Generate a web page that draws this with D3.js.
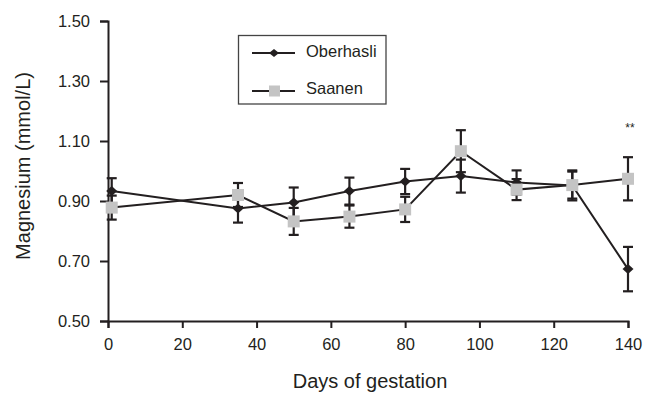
<!DOCTYPE html>
<html><head><meta charset="utf-8">
<script src="https://cdn.jsdelivr.net/npm/d3@7"></script>
<style>body{margin:0;background:#fff}svg{display:block}text{font-family:"Liberation Sans",Arial,sans-serif;fill:#231f20}</style>
</head><body><svg id="c" width="646" height="393"></svg>
<script>
const days = [1, 35, 50, 65, 80, 95, 110, 125, 140];
const oberhasli = [0.933, 0.875, 0.895, 0.933, 0.965, 0.983, 0.962, 0.952, 0.673];
const oberhasliErr = [0.043, 0.047, 0.05, 0.045, 0.042, 0.055, 0.04, 0.05, 0.074];
const saanen = [0.878, 0.92, 0.832, 0.848, 0.872, 1.066, 0.938, 0.953, 0.974];
const saanenErr = [0.04, 0.04, 0.045, 0.037, 0.042, 0.07, 0.035, 0.045, 0.072];
const xTicks = [0, 20, 40, 60, 80, 100, 120, 140];
const yTicks = [0.5, 0.7, 0.9, 1.1, 1.3, 1.5];
const seriesNames = ["Oberhasli", "Saanen"];

const svg = d3.select("#c");
const x = d3.scaleLinear().domain([0, 140]).range([108, 628]);
const y = d3.scaleLinear().domain([0.5, 1.5]).range([321, 21]);
const ink = "#231f20";

const xa = svg.append("g").attr("transform", "translate(0,321)")
  .call(d3.axisBottom(x).tickValues(xTicks).tickSize(7).tickPadding(10).tickFormat(d3.format("d")));
const ya = svg.append("g").attr("transform", "translate(108,0)")
  .call(d3.axisLeft(y).tickValues(yTicks).tickSize(8).tickPadding(10).tickFormat(d3.format(".2f")));
[xa, ya].forEach(a => {
  a.selectAll("path").attr("stroke", ink).attr("stroke-width", 2);
  a.selectAll("line").attr("stroke", ink).attr("stroke-width", 2);
  a.selectAll("text").style("font-size", "16.5px").attr("fill", ink);
});

svg.append("text").attr("x", 370).attr("y", 388).attr("text-anchor", "middle")
  .style("font-size", "20px").text("Days of gestation");
svg.append("text").attr("transform", "translate(30,166) rotate(-90)").attr("text-anchor", "middle")
  .style("font-size", "20px").text("Magnesium (mmol/L)");

const line = d3.line().x(d => x(d[0])).y(d => y(d[1]));
const ob = days.map((d, i) => [d, oberhasli[i], oberhasliErr[i]]);
const sa = days.map((d, i) => [d, saanen[i], saanenErr[i]]);

[ob, sa].forEach(s => {
  svg.append("path").datum(s).attr("d", line).attr("fill", "none").attr("stroke", ink).attr("stroke-width", 2);
});
[ob, sa].forEach(s => {
  const g = svg.append("g").attr("stroke", ink).attr("stroke-width", 2.2);
  s.forEach(p => {
    const cx = x(p[0]), t = y(p[1] + p[2]), b = y(p[1] - p[2]);
    g.append("line").attr("x1", cx).attr("x2", cx).attr("y1", t).attr("y2", b);
    g.append("line").attr("x1", cx - 5).attr("x2", cx + 5).attr("y1", t).attr("y2", t);
    g.append("line").attr("x1", cx - 5).attr("x2", cx + 5).attr("y1", b).attr("y2", b);
  });
});
const diamond = "M0,-5L5.5,0L0,5L-5.5,0Z";
svg.append("g").selectAll("path").data(ob).join("path")
  .attr("transform", d => `translate(${x(d[0])},${y(d[1])})`).attr("d", diamond).attr("fill", ink);
svg.append("g").selectAll("rect").data(sa).join("rect")
  .attr("x", d => x(d[0]) - 6).attr("y", d => y(d[1]) - 6).attr("width", 12).attr("height", 12)
  .attr("fill", "#c4c4c4");

svg.append("text").attr("x", 630).attr("y", 132).attr("text-anchor", "middle")
  .style("font-size", "12px").text("**");

// legend
const lg = svg.append("g");
lg.append("rect").attr("x", 238.5).attr("y", 35.5).attr("width", 147.5).attr("height", 68.5)
  .attr("fill", "#fff").attr("stroke", "#444").attr("stroke-width", 1.3);
seriesNames.forEach((n, i) => {
  const yy = 53 + i * 38;
  lg.append("line").attr("x1", 252).attr("x2", 295).attr("y1", yy).attr("y2", yy)
    .attr("stroke", ink).attr("stroke-width", 2);
  if (i === 0) lg.append("path").attr("transform", `translate(274,${yy})`).attr("d", "M0,-4L5,0L0,4L-5,0Z").attr("fill", ink);
  else lg.append("rect").attr("x", 269).attr("y", yy - 5.5).attr("width", 11).attr("height", 11).attr("fill", "#c4c4c4");
  lg.append("text").attr("x", 306).attr("y", yy + 4 + (i ? -1 : 0)).style("font-size", "16.5px").text(n);
});
</script></body></html>
